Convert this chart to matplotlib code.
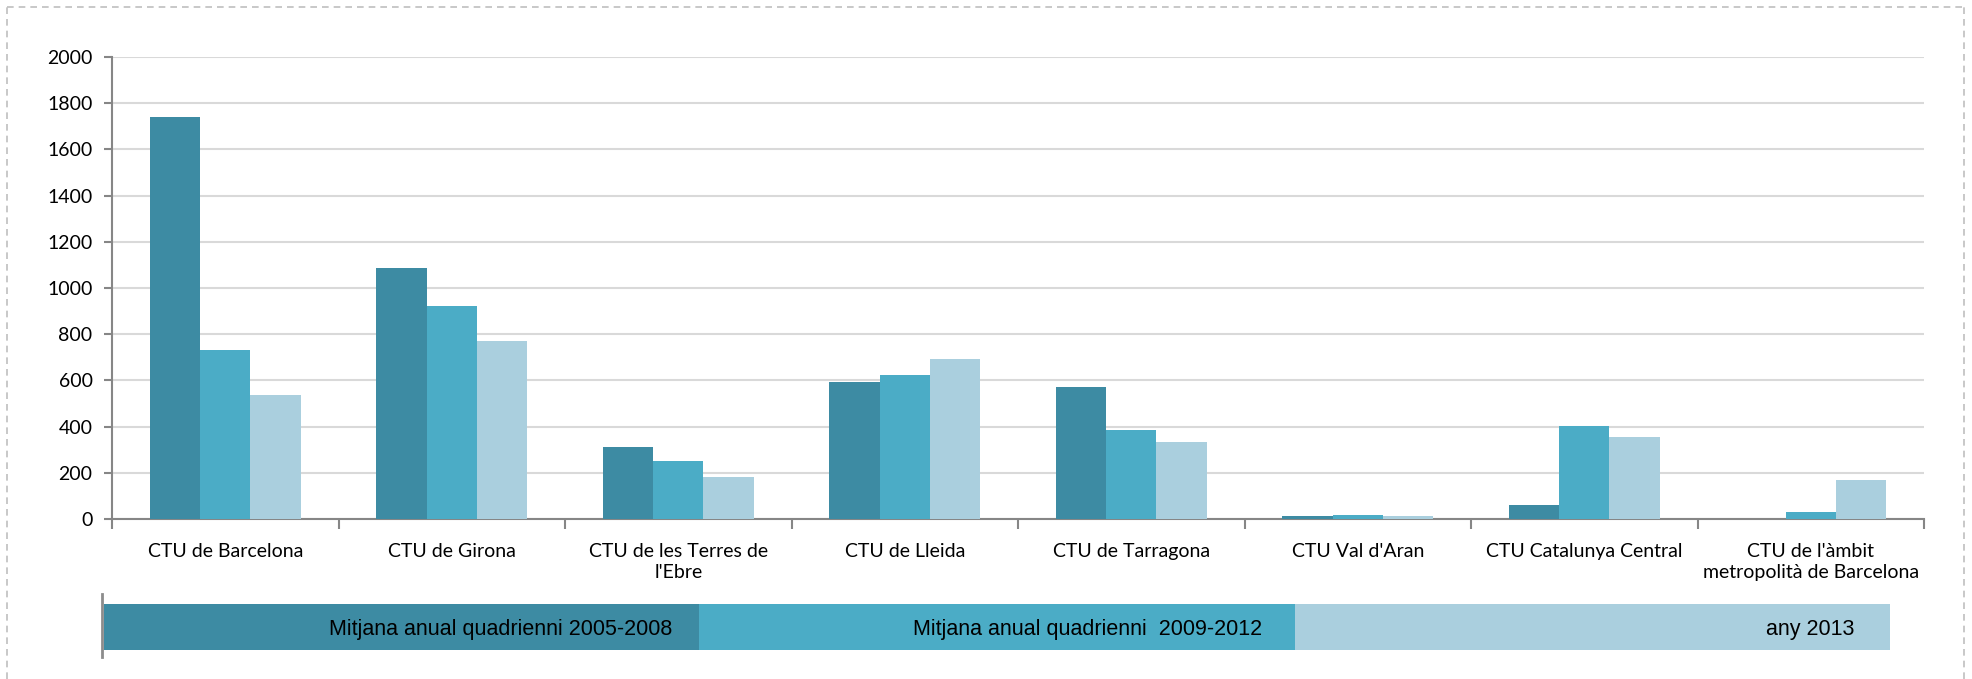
import matplotlib
matplotlib.use("Agg")
import matplotlib.pyplot as plt
import numpy as np
from matplotlib.patches import Rectangle
from matplotlib.lines import Line2D

categories = ["CTU de Barcelona", "CTU de Girona", "CTU de les Terres de\nl'Ebre",
              "CTU de Lleida", "CTU de Tarragona", "CTU Val d'Aran",
              "CTU Catalunya Central", "CTU de l'àmbit\nmetropolità de Barcelona"]
series_names = ["Mitjana anual quadrienni 2005-2008",
                "Mitjana anual quadrienni  2009-2012",
                "any 2013"]
s2005_2008 = [1741, 1087, 311, 591, 571, 14, 59, 0]
s2009_2012 = [731, 921, 253, 623, 385, 17, 404, 32]
s2013 = [538, 771, 183, 694, 332, 15, 356, 170]
yticks = [0, 200, 400, 600, 800, 1000, 1200, 1400, 1600, 1800, 2000]

colors = ["#3D8BA3", "#4BACC6", "#AACFDE"]
label_font = ["Lato", "DejaVu Sans"]

W, H = 1972, 679
fig = plt.figure(figsize=(W / 100, H / 100), dpi=100)

ax = fig.add_axes([112 / W, 1 - 519 / H, (1924 - 112) / W, (519 - 57) / H])
x = np.arange(len(categories))
bw = 1 / 4.5
for i, (vals, c) in enumerate(zip([s2005_2008, s2009_2012, s2013], colors)):
    ax.bar(x + (i - 1) * bw, vals, width=bw, color=c, zorder=3, linewidth=0)

ax.set_xlim(-0.5, len(categories) - 0.5)
ax.set_ylim(0, 2000)
ax.set_yticks(yticks)
ax.set_yticklabels([str(v) for v in yticks], fontsize=14, family=label_font)
ax.yaxis.grid(True, color="#D9D9D9", linewidth=1.5, zorder=0)
ax.set_axisbelow(True)

ax.set_xticks(np.arange(-0.5, len(categories), 1.0))
ax.set_xticklabels([])
ax.set_xticks(x, minor=True)
ax.set_xticklabels(categories, minor=True, fontsize=14, family=label_font,
                   linespacing=1.3)
ax.tick_params(axis="x", which="minor", length=0, pad=17)
ax.tick_params(axis="x", which="major", length=7, width=1.5, color="#868686", direction="out")
ax.tick_params(axis="y", length=6, width=1.5, color="#868686", pad=8)

for s in ["top", "right"]:
    ax.spines[s].set_visible(False)
ax.spines["left"].set_color("#868686")
ax.spines["left"].set_linewidth(1.5)
ax.spines["bottom"].set_color("#868686")
ax.spines["bottom"].set_linewidth(1.5)

# Legend strip
lx0, lx1 = 104, 1890
ly0, ly1 = 604, 650
seg = (lx1 - lx0) / 3
margins = [27, 33, 36]
leg_font = ["Liberation Sans", "DejaVu Sans"]
for i, (name, c) in enumerate(zip(series_names, colors)):
    xs = lx0 + i * seg
    fig.patches.append(Rectangle((xs / W, 1 - ly1 / H), seg / W, (ly1 - ly0) / H,
                                 transform=fig.transFigure, facecolor=c,
                                 edgecolor="none", zorder=2))
    fig.text((xs + seg - margins[i]) / W, 1 - 629 / H, name, ha="right", va="center",
             fontsize=15.5, family=leg_font, color="#000000")
fig.lines.append(Line2D([102 / W, 102 / W], [1 - 594 / H, 1 - 657 / H],
                        transform=fig.transFigure, color="#8C8C8C", linewidth=2))

# dashed outer border (left, top, right)
bc = "#BFBFBF"
fig.lines.append(Line2D([7 / W, 7 / W], [0, 1 - 7 / H], transform=fig.transFigure,
                        color=bc, linewidth=1.2, linestyle=(0, (4, 3))))
fig.lines.append(Line2D([7 / W, 1964 / W], [1 - 7 / H, 1 - 7 / H], transform=fig.transFigure,
                        color=bc, linewidth=1.2, linestyle=(0, (4, 3))))
fig.lines.append(Line2D([1964 / W, 1964 / W], [0, 1 - 7 / H], transform=fig.transFigure,
                        color=bc, linewidth=1.2, linestyle=(0, (4, 3))))

fig.savefig("out.png", dpi=100)
